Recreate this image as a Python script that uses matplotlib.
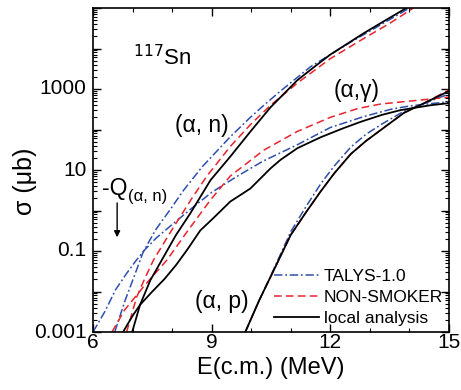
import numpy as np
import matplotlib
matplotlib.use("Agg")
import matplotlib.pyplot as plt
from matplotlib.ticker import LogLocator, NullFormatter, MultipleLocator

plt.rcParams['font.family'] = ['Liberation Sans', 'DejaVu Sans']

# E(c.m.) in MeV, sigma in microbarn
# (alpha,n)
E_n_loc = [6.99, 7.19, 7.45, 7.74, 8.1, 8.46, 8.97, 9.47, 9.98, 10.49, 11.17, 11.6, 12.0, 12.85, 13.4, 13.96]
s_n_loc = [0.001, 0.0047, 0.019, 0.060, 0.25, 0.85, 5.6, 21.4, 89, 355, 1660, 3550, 7080, 24000, 50100, 105000]
E_n_ns = [6.85, 7.1, 7.3, 7.53, 8.0, 8.5, 8.88, 9.47, 9.98, 10.49, 11.17, 12.0, 12.85, 13.5, 14.1]
s_n_ns = [0.001, 0.0071, 0.020, 0.060, 0.34, 2.0, 7.1, 38, 132, 398, 1410, 5620, 17800, 41700, 100000]
E_n_ta = [6.55, 6.8, 7.05, 7.27, 7.58, 7.95, 8.29, 8.76, 9.47, 9.98, 10.32, 10.74, 11.5, 12.5, 13.3, 14.04]
s_n_ta = [0.001, 0.0056, 0.025, 0.095, 0.33, 1.05, 3.16, 12, 66, 200, 398, 891, 3550, 14100, 39800, 105000]

# (alpha,gamma)
E_g_loc = [6.76, 7.0, 7.19, 7.5, 7.8, 8.1, 8.38, 8.71, 9.05, 9.47, 9.98, 10.49, 10.74, 11.17, 11.76, 12.3, 12.77, 13.3, 13.78, 14.54, 15.0]
s_g_loc = [0.001, 0.0025, 0.0047, 0.010, 0.020, 0.045, 0.107, 0.32, 0.66, 1.66, 3.5, 11, 17.8, 34.7, 64.6, 105, 155, 229, 302, 398, 447]
E_g_ns = [6.48, 6.8, 7.3, 7.87, 8.4, 8.97, 9.47, 10.32, 11.16, 12.0, 12.7, 13.28, 14.3, 15.0]
s_g_ns = [0.001, 0.0035, 0.014, 0.060, 0.32, 1.82, 7.1, 31, 89, 200, 331, 427, 537, 631]
E_g_ta = [6.0, 6.3, 6.57, 6.85, 7.07, 7.3, 7.6, 8.0, 8.54, 9.0, 9.6, 10.3, 11.16, 12.0, 12.85, 13.53, 14.0, 14.54, 15.0]
s_g_ta = [0.001, 0.0032, 0.011, 0.028, 0.055, 0.105, 0.21, 0.45, 1.23, 2.8, 6.6, 16.6, 41.7, 112, 209, 316, 380, 437, 479]

# (alpha,p)
E_p_loc = [9.85, 10.2, 10.56, 11.0, 11.4, 11.76, 12.1, 12.52, 12.9, 13.28, 13.86, 14.37, 15.0]
s_p_loc = [0.001, 0.006, 0.032, 0.25, 0.95, 3.0, 8.3, 25, 52, 98, 257, 447, 891]
E_p_ns = [9.85, 10.2, 10.56, 11.0, 11.4, 11.76, 12.1, 12.52, 12.9, 13.28, 13.86, 14.37, 15.0]
s_p_ns = [0.001, 0.006, 0.032, 0.25, 0.95, 3.0, 8.3, 25, 52, 98, 257, 447, 955]
E_p_ta = [9.85, 10.2, 10.56, 11.0, 11.4, 11.76, 12.1, 12.52, 12.9, 13.28, 13.86, 14.37, 15.0]
s_p_ta = [0.001, 0.006, 0.034, 0.30, 1.32, 4.6, 12.6, 37, 76, 132, 282, 437, 759]

y_ticks = [0.001, 0.1, 10, 1000]
y_labels = ["0.001", "0.1", "10", "1000"]
x_ticks = [6, 9, 12, 15]

blue = "#2f4fae"
red = "#e8242c"
lw = 1.1
ta_style = dict(color=blue, lw=lw, dashes=(5.5, 1.8, 1.2, 1.8))
ns_style = dict(color=red, lw=lw, dashes=(5, 2.8))
loc_style = dict(color="black", lw=1.3)

fig = plt.figure(figsize=(4.61, 3.9), dpi=100)
ax = fig.add_axes([93/461, 58/390, 356/461, 324/390])

ax.plot(E_g_ta, s_g_ta, **ta_style)
ax.plot(E_n_ta, s_n_ta, **ta_style)
ax.plot(E_p_ta, s_p_ta, **ta_style, label="TALYS-1.0")
ax.plot(E_g_ns, s_g_ns, **ns_style)
ax.plot(E_n_ns, s_n_ns, **ns_style)
ax.plot(E_p_ns, s_p_ns, **ns_style, label="NON-SMOKER")
ax.plot(E_g_loc, s_g_loc, **loc_style)
ax.plot(E_n_loc, s_n_loc, **loc_style)
ax.plot(E_p_loc, s_p_loc, **loc_style, label="local analysis")

ax.set_yscale("log")
ax.set_xlim(6, 15)
ax.set_ylim(0.001, 1e5)

ax.set_xticks(x_ticks)
ax.xaxis.set_minor_locator(MultipleLocator(1))
ax.yaxis.set_major_locator(LogLocator(base=10, numticks=20))
ax.yaxis.set_minor_locator(LogLocator(base=10, subs=np.arange(2, 10), numticks=20))
ax.yaxis.set_minor_formatter(NullFormatter())
ax.yaxis.set_major_formatter(NullFormatter())
for t, l in zip(y_ticks, y_labels):
    ax.text(-0.018, t, l, transform=ax.get_yaxis_transform(), ha="right", va="center", fontsize=15)

ax.tick_params(which="both", direction="in", top=True, right=True)
ax.tick_params(which="major", length=6, width=1.0, labelsize=15, pad=1)
ax.tick_params(which="minor", length=3, width=0.8)
for sp in ax.spines.values():
    sp.set_linewidth(1.2)

ax.set_xlabel("E(c.m.) (MeV)", fontsize=17, labelpad=3)
fig.text(25/461, 1 - 181/390, "σ (μb)", rotation=90, ha="center", va="center", fontsize=18)

ax.text(7.0, 3890, "$^{117}$Sn", fontsize=16, ha="left", va="baseline",
        math_fontfamily="dejavusans")
ax.text(8.76, 123, "(α, n)", fontsize=16.5, ha="center", va="center")
ax.text(12.67, 944, "(α,γ)", fontsize=16.5, ha="center", va="center")
ax.text(9.26, 0.0058, "(α, p)", fontsize=16.5, ha="center", va="center")
ax.text(6.23, 2.4, "-Q", fontsize=16.5, ha="left", va="baseline")
ax.text(7.39, 2.2, "(α, n)", fontsize=12, ha="center", va="center")
ax.annotate("", xy=(6.61, 0.186), xytext=(6.61, 1.8),
            arrowprops=dict(arrowstyle="-|>", color="black", lw=1.0, mutation_scale=9))

ax.legend(loc="lower right", frameon=False, fontsize=12.5, handlelength=2.6,
          handletextpad=0.25, labelspacing=0.33, borderpad=0.15, borderaxespad=0.2)

fig.savefig("out.png", dpi=100)
